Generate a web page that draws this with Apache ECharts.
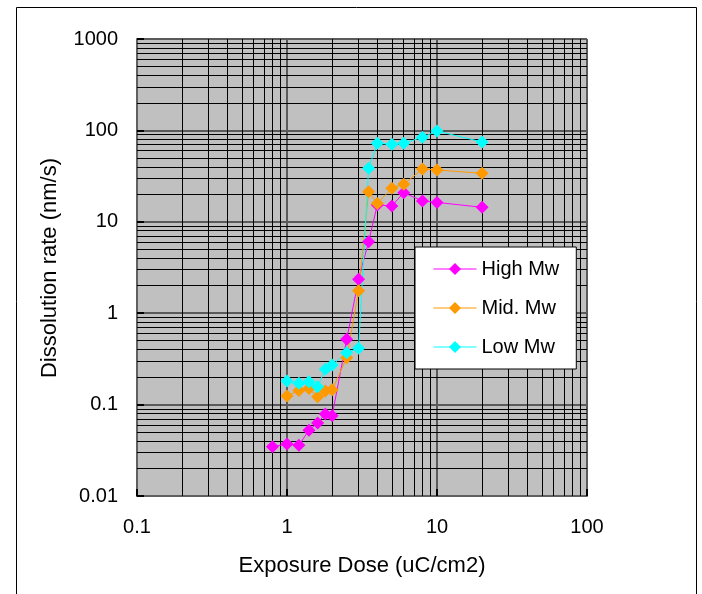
<!DOCTYPE html>
<html>
<head>
<meta charset="utf-8">
<script src="https://cdn.jsdelivr.net/npm/echarts@6/dist/echarts.min.js"></script>
<style>
  html, body { margin: 0; padding: 0; background: #ffffff; }
  #chart { width: 702px; height: 594px; }
</style>
</head>
<body>
<div id="chart"></div>
<script>
// Exposure dose (uC/cm2) and dissolution rate (nm/s) for each molecular weight
const doseHigh = [0.8, 1, 1.2, 1.4, 1.6, 1.8, 2, 2.5, 3, 3.5, 4, 5, 6, 8, 10, 20];
const rateHigh = [0.0346, 0.0371, 0.0359, 0.0524, 0.0629, 0.0789, 0.0757, 0.518, 2.35, 6.05, 15.3, 14.9, 20.8, 16.9, 16.3, 14.4];

const doseMid = [1, 1.2, 1.4, 1.6, 1.8, 2, 2.5, 3, 3.5, 4, 5, 6, 8, 10, 20];
const rateMid = [0.124, 0.143, 0.15, 0.122, 0.141, 0.145, 0.325, 1.76, 21.3, 15.9, 23.3, 25.7, 37.8, 36.9, 33.9];

const doseLow = [1, 1.2, 1.4, 1.6, 1.8, 2, 2.5, 3, 3.5, 4, 5, 6, 8, 10, 20];
const rateLow = [0.181, 0.171, 0.178, 0.157, 0.243, 0.271, 0.370, 0.413, 38.5, 72.3, 70.5, 72.3, 84.1, 98.4, 74.7];

const seriesNames = ['High Mw', 'Mid. Mw', 'Low Mw'];
const xTickLabels = ['0.1', '1', '10', '100'];
const yTickLabels = ['0.01', '0.1', '1', '10', '100', '1000'];
const xTitle = 'Exposure Dose (uC/cm2)';
const yTitle = 'Dissolution rate (nm/s)';

const FONT = '"Liberation Sans", Arial, sans-serif';

// minor gridlines at 2..9 of every decade
function minorValues(fromExp, toExp) {
  const out = [];
  for (let e = fromExp; e < toExp; e++) {
    for (let m = 2; m <= 9; m++) out.push(+(m * Math.pow(10, e)).toPrecision(3));
  }
  return out;
}
const xMinor = minorValues(-1, 2);
const yMinor = minorValues(-2, 3);

const pairs = (xs, ys) => xs.map((x, i) => [x, ys[i]]);

const chart = echarts.init(document.getElementById('chart'), null, { renderer: 'canvas' });

function dataSeries(name, xs, ys, color) {
  return {
    name: name,
    type: 'line',
    data: pairs(xs, ys),
    symbol: 'diamond',
    symbolSize: 13,
    lineStyle: { color: color, width: 1 },
    itemStyle: { color: color },
    z: 5
  };
}

chart.setOption({
  animation: false,
  backgroundColor: '#ffffff',
  grid: {
    left: 137, top: 39, width: 450, height: 457,
    show: true, backgroundColor: '#C0C0C0', borderColor: '#808080', borderWidth: 1
  },
  xAxis: {
    type: 'log', logBase: 10, min: 0.1, max: 100,
    axisLine: { show: true, lineStyle: { color: '#606060', width: 2 } },
    axisTick: { show: true, inside: true, length: 7, lineStyle: { color: '#000', width: 2 } },
    axisLabel: {
      margin: 21, fontFamily: FONT, fontSize: 20, color: '#000',
      formatter: v => xTickLabels[Math.round(Math.log10(v)) + 1]
    },
    splitLine: { show: true, lineStyle: { color: '#5a5a5a', width: 2 } }
  },
  yAxis: {
    type: 'log', logBase: 10, min: 0.01, max: 1000,
    axisLine: { show: true, lineStyle: { color: '#606060', width: 2 } },
    axisTick: { show: true, inside: true, length: 7, lineStyle: { color: '#000', width: 2 } },
    axisLabel: {
      margin: 19, fontFamily: FONT, fontSize: 20, color: '#000',
      formatter: v => yTickLabels[Math.round(Math.log10(v)) + 2]
    },
    splitLine: { show: true, lineStyle: { color: '#5a5a5a', width: 2 } }
  },
  legend: {
    data: seriesNames,
    orient: 'vertical',
    left: 415, top: 247,
    z: 20,
    padding: [12, 17, 12, 18],
    itemWidth: 43, itemHeight: 15, itemGap: 19,
    lineStyle: { width: 1 },
    backgroundColor: '#ffffff', borderColor: '#000', borderWidth: 1,
    textStyle: { fontFamily: FONT, fontSize: 20, color: '#000' }
  },
  series: [
    {
      name: 'minor-grid',
      type: 'line',
      data: [],
      silent: true,
      z: 1,
      markLine: {
        silent: true,
        z: 1,
        symbol: ['none', 'none'],
        label: { show: false },
        lineStyle: { color: '#000', width: 1, type: 'solid' },
        data: xMinor.map(v => ({ xAxis: v })).concat(yMinor.map(v => ({ yAxis: v })))
      }
    },
    dataSeries(seriesNames[0], doseHigh, rateHigh, '#FF00FF'),
    dataSeries(seriesNames[1], doseMid, rateMid, '#FF9900'),
    dataSeries(seriesNames[2], doseLow, rateLow, '#00FFFF')
  ],
  graphic: [
    {
      type: 'rect', silent: true, z: 0,
      shape: { x: 16.5, y: 7.5, width: 680, height: 600 },
      style: { fill: 'none', stroke: '#000', lineWidth: 1 }
    },
    {
      type: 'text', silent: true,
      x: 362, y: 566,
      style: { text: xTitle, font: '22px ' + FONT, fill: '#000', align: 'center', verticalAlign: 'middle' }
    },
    {
      type: 'text', silent: true,
      x: 50, y: 268, rotation: Math.PI / 2,
      style: { text: yTitle, font: '22px ' + FONT, fill: '#000', align: 'center', verticalAlign: 'middle' }
    }
  ]
});
</script>
</body>
</html>
